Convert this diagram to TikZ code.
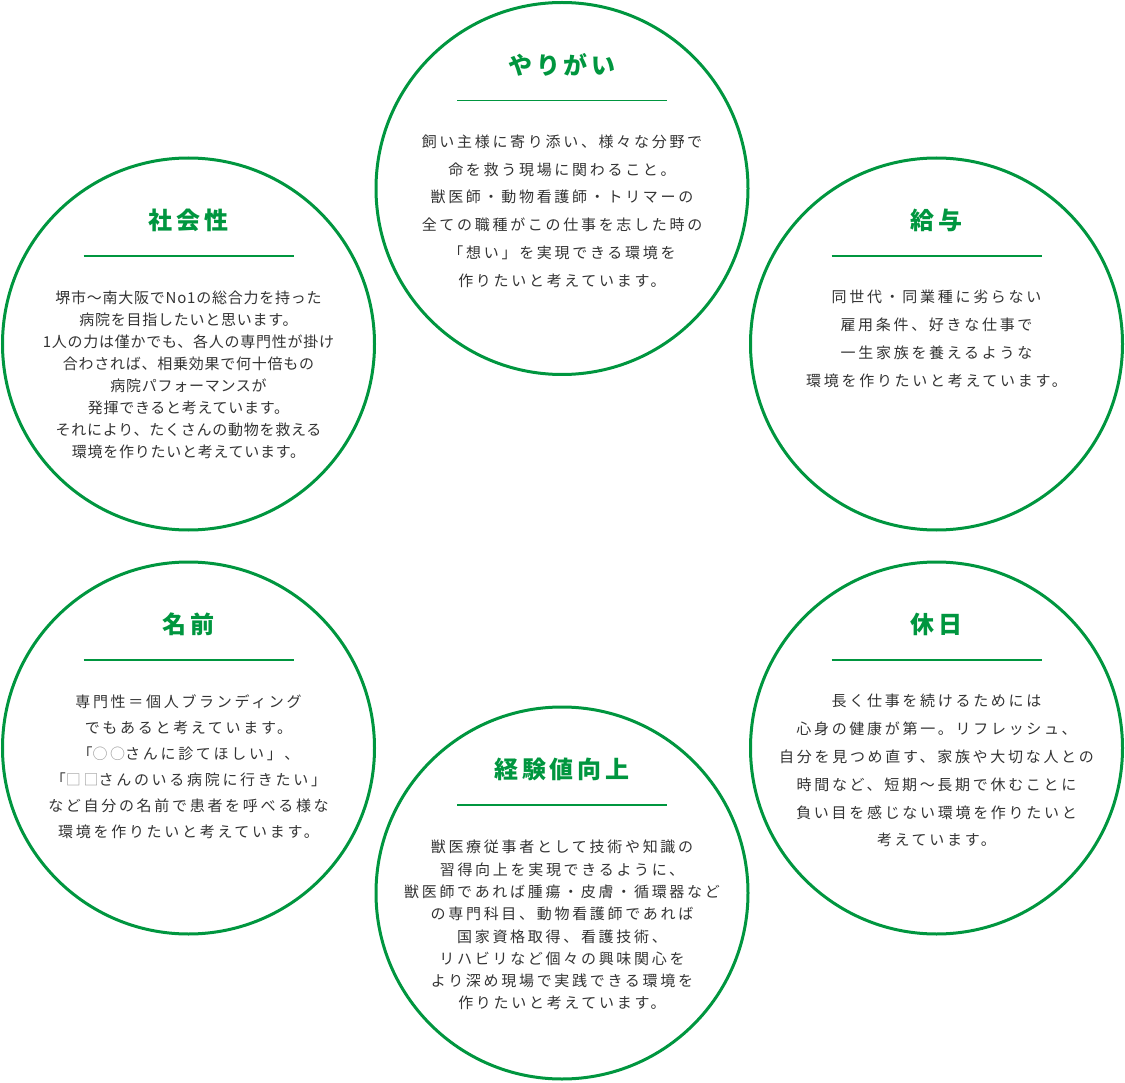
\documentclass[tikz,border=0pt]{standalone}
\usepackage{fontspec}
\usepackage{tikz}
\usetikzlibrary{calc}
\newfontfamily\jpbody[LetterSpace=18]{Noto Sans CJK JP}
\newfontfamily\jptight[LetterSpace=5]{Noto Sans CJK JP}
\newfontfamily\jphead[LetterSpace=15]{Noto Sans CJK JP}
\definecolor{wkgreen}{HTML}{00963F}
\definecolor{wktext}{HTML}{333333}
\definecolor{wkmark}{HTML}{9A9A9A}

\begin{document}
\begin{tikzpicture}[x=1pt, y=-1pt,
  bubble/.style={circle, draw=wkgreen, line width=3pt, minimum size=372pt, inner sep=0pt},
  heading/.style={font=\jphead\bfseries\fontsize{24pt}{28pt}\selectfont, text=wkgreen, inner sep=0pt},
  rule/.style={draw=wkgreen, line width=1.2pt},
  body/.style={anchor=north, align=center, inner sep=0pt, text=wktext,
               font=\jpbody\fontsize{15pt}{#1}\selectfont},
  body/.default=27.8pt,
  tightbody/.style={body, font=\jptight\fontsize{15pt}{22pt}\selectfont}
]
  \useasboundingbox (0,0) rectangle (1125,1083);

  % circles
  \node[bubble] (yari)   at (562,188.5)   {};
  \node[bubble] (shakai) at (188.5,344)   {};
  \node[bubble] (kyuyo)  at (936.5,344)   {};
  \node[bubble] (namae)  at (188.5,748)   {};
  \node[bubble] (kyujitsu) at (936.5,748) {};
  \node[bubble] (keiken) at (562,893)     {};

  % headings
  \node[heading] (yariT)   at ($(yari)+(0,-124)$)     {やりがい};
  \node[heading] (shakaiT) at ($(shakai)+(0,-124)$)   {社会性};
  \node[heading] (kyuyoT)  at ($(kyuyo)+(0,-124)$)    {給与};
  \node[heading] (namaeT)  at ($(namae)+(0,-124)$)    {名前};
  \node[heading] (kyujitsuT) at ($(kyujitsu)+(0,-124)$) {休日};
  \node[heading] (keikenT) at ($(keiken)+(0,-124)$)   {経験値向上};

  % rules under headings
  \draw[rule] ($(yari)+(-105,-88)$)     -- ($(yari)+(105,-88)$);
  \draw[rule] ($(shakai)+(-105,-88)$)   -- ($(shakai)+(105,-88)$);
  \draw[rule] ($(kyuyo)+(-105,-88)$)    -- ($(kyuyo)+(105,-88)$);
  \draw[rule] ($(namae)+(-105,-88)$)    -- ($(namae)+(105,-88)$);
  \draw[rule] ($(kyujitsu)+(-105,-88)$) -- ($(kyujitsu)+(105,-88)$);
  \draw[rule] ($(keiken)+(-105,-88)$)   -- ($(keiken)+(105,-88)$);

  % texts
  \node[body] (yariB) at ($(yari)+(0,-54)$) {飼い主様に寄り添い、様々な分野で\\
    命を救う現場に関わること。\\獣医師・動物看護師・トリマーの\\
    全ての職種がこの仕事を志した時の\\「想い」を実現できる環境を\\
    作りたいと考えています。};
  \node[tightbody] (shakaiB) at ($(shakai)+(0,-53)$) {堺市〜南大阪でNo1の総合力を持った\\
    病院を目指したいと思います。\\1人の力は僅かでも、各人の専門性が掛け\\
    合わされば、相乗効果で何十倍もの\\病院パフォーマンスが\\
    発揮できると考えています。\\それにより、たくさんの動物を救える\\
    環境を作りたいと考えています。};
  \node[body] (kyuyoB) at ($(kyuyo)+(0,-54)$) {同世代・同業種に劣らない\\
    雇用条件、好きな仕事で\\一生家族を養えるような\\
    環境を作りたいと考えています。};
  \node[body=26pt] (namaeB) at ($(namae)+(0,-54)$) {専門性＝個人ブランディング\\
    でもあると考えています。\\「{\color{wkmark}○○}さんに診てほしい」、\\
    「{\color{wkmark}□□}さんのいる病院に行きたい」\\
    など自分の名前で患者を呼べる様な\\環境を作りたいと考えています。};
  \node[body] (kyujitsuB) at ($(kyujitsu)+(0,-54)$) {長く仕事を続けるためには\\
    心身の健康が第一。リフレッシュ、\\自分を見つめ直す、家族や大切な人との\\
    時間など、短期〜長期で休むことに\\負い目を感じない環境を作りたいと\\
    考えています。};
  \node[body=22.3pt] (keikenB) at ($(keiken)+(0,-53)$) {獣医療従事者として技術や知識の\\
    習得向上を実現できるように、\\獣医師であれば腫瘍・皮膚・循環器など\\
    の専門科目、動物看護師であれば\\国家資格取得、看護技術、\\
    リハビリなど個々の興味関心を\\より深め現場で実践できる環境を\\
    作りたいと考えています。};
\end{tikzpicture}
\end{document}
